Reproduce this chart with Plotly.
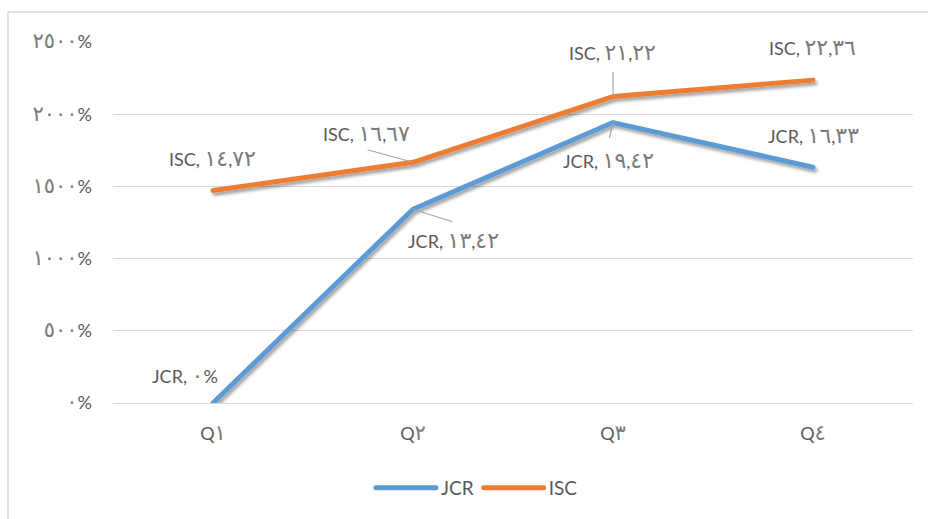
import re
import plotly.graph_objects as go

# Quarterly series
quarters = ["Q١", "Q٢", "Q٣", "Q٤"]
jcr = [0, 13.42, 19.42, 16.33]
isc = [14.72, 16.67, 21.22, 22.36]
y_ticks = [0, 5, 10, 15, 20, 25]

AR_DIGITS = str.maketrans("0123456789", "٠١٢٣٤٥٦٧٨٩")
LATIN_DIGITS = str.maketrans("٠١٢٣٤٥٦٧٨٩", "0123456789")


def ar(s, size):
    """Convert to Arabic-Indic digits, setting digit runs slightly larger and lighter."""
    s = s.translate(AR_DIGITS)
    return re.sub(r"([٠-٩]+)",
                  lambda m: (f'<span style="font-family:DejaVu Sans;fill:#7a7a7a;'
                             f'font-size:{size}px">{m.group(1)}</span>'), s)


def pct_label(v):
    return ar(f"{round(v * 100)}%", 21)


def value_label(name, v):
    if v == 0:
        return f"{name}, " + ar("0%", 22)
    return f"{name}, " + ar(f"{v:.2f}".replace(".", ","), 22)


BLUE = "#5B9BD5"
ORANGE = "#ED7D31"
TXT = "#595959"
GRID = "#D9D9D9"
FONT = "Lato, DejaVu Sans, sans-serif"

fig = go.Figure()
fig.add_trace(go.Scatter(x=quarters, y=jcr, name="JCR", mode="lines",
                         line=dict(color=BLUE, width=5)))
fig.add_trace(go.Scatter(x=quarters, y=isc, name="ISC", mode="lines",
                         line=dict(color=ORANGE, width=5)))

# label offsets (pixels) and optional leader lines per point
jcr_off = [(-28, 28), (40, -31), (-5, -38), (0, 32)]
isc_off = [(-1, 32), (-47, 29), (-1, 44), (-1, 33)]
jcr_lead = [None, (41, 13), (-4, 17), None]
isc_lead = [None, (-47, -13), (0, -26), None]

annotations = []
for name, vals, offs, leads in (("JCR", jcr, jcr_off, jcr_lead),
                                ("ISC", isc, isc_off, isc_lead)):
    for q, v, (dx, dy), lead in zip(quarters, vals, offs, leads):
        annotations.append(dict(
            x=q, y=v, xref="x", yref="y", text=value_label(name, v),
            showarrow=False, xshift=dx, yshift=dy,
            font=dict(family=FONT, size=18, color=TXT)))
        if lead:
            annotations.append(dict(
                x=q, y=v, xref="x", yref="y", text="", showarrow=True,
                arrowhead=0, arrowwidth=1.2, arrowcolor="#A6A6A6",
                ax=lead[0], ay=lead[1], standoff=0, startstandoff=0))

fig.update_layout(
    width=928, height=519,
    margin=dict(l=113, r=15, t=42, b=116),
    paper_bgcolor="white", plot_bgcolor="white",
    font=dict(family=FONT, color=TXT, size=17),
    annotations=annotations,
    showlegend=True,
    legend=dict(orientation="h", x=0.455, xanchor="center", y=-0.235,
                yanchor="middle", font=dict(size=19, color=TXT),
                itemwidth=60, traceorder="normal"),
    shapes=[dict(type="rect", xref="paper", yref="paper",
                 x0=-0.13125, x1=1.05, y0=-0.35, y1=1.0831,
                 line=dict(color=GRID, width=1.5), layer="below")],
)
fig.update_xaxes(range=[-0.5, 3.5], showgrid=False, showline=False,
                 zeroline=False, ticks="", ticklabelstandoff=18,
                 tickvals=list(range(len(quarters))),
                 ticktext=[q[0] + ar(q[1:].translate(LATIN_DIGITS), 21)
                           for q in quarters],
                 tickfont=dict(size=18, color=TXT))
fig.update_yaxes(range=[0, 25], tickvals=y_ticks,
                 ticktext=[pct_label(v) for v in y_ticks],
                 showgrid=True, gridcolor=GRID, gridwidth=1.3,
                 zeroline=True, zerolinecolor=GRID, zerolinewidth=1.3,
                 ticks="", ticklabelstandoff=20,
                 tickfont=dict(size=18, color=TXT))

post = """
var gd = document.querySelector('.js-plotly-plot');
var svg = gd.querySelector('svg.main-svg');
var defs = svg.querySelector('defs') || svg.insertBefore(document.createElementNS('http://www.w3.org/2000/svg','defs'), svg.firstChild);
var f = document.createElementNS('http://www.w3.org/2000/svg','filter');
f.setAttribute('id','lineShadow');
f.setAttribute('x','-10%'); f.setAttribute('y','-10%');
f.setAttribute('width','130%'); f.setAttribute('height','140%');
f.innerHTML = '<feDropShadow dx="2" dy="3" stdDeviation="1.8" flood-color="#000" flood-opacity="0.35"/>';
defs.appendChild(f);
gd.querySelectorAll('.scatterlayer .js-line').forEach(function(p){
  p.style.strokeLinecap = 'round';
  p.style.strokeLinejoin = 'round';
  p.setAttribute('filter','url(#lineShadow)');
});
gd.querySelectorAll('.legend .js-line').forEach(function(p){
  p.style.strokeLinecap = 'round';
});
"""
fig.write_html("out.html", post_script=post)
